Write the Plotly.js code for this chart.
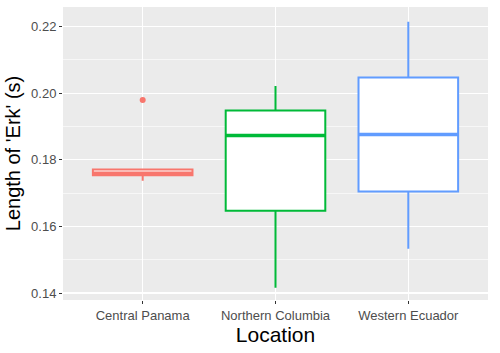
<!DOCTYPE html>
<html><head><meta charset="utf-8">
<script src="https://cdn.plot.ly/plotly-3.0.1.min.js"></script>
<style>html,body{margin:0;padding:0;background:#fff}</style>
</head><body><div id="chart" style="width:500px;height:353px"></div>
<script>
var categories = ["Central Panama", "Northern Columbia", "Western Ecuador"];
var colors = ["#F8766D", "#00BA38", "#619CFF"];
var lowerWhisker = [0.1737, 0.1416, 0.1533];
var q1 = [0.1754, 0.1647, 0.1705];
var median = [0.1760, 0.1873, 0.1876];
var q3 = [0.1771, 0.1948, 0.2047];
var upperWhisker = [0.1771, 0.2022, 0.2215];
var outlierCats = ["Central Panama"];
var outlierVals = [0.1980];

var traces = [];
var shapes = [];
categories.forEach(function(c, i) {
  traces.push({
    type: 'box', x: [c], q1: [q1[i]], median: [median[i]], q3: [q3[i]],
    lowerfence: [lowerWhisker[i]], upperfence: [upperWhisker[i]],
    fillcolor: 'white', line: {color: colors[i], width: 2},
    width: 0.75, whiskerwidth: 0, boxpoints: false, showlegend: false,
    hoverinfo: 'skip'
  });
  shapes.push({type: 'line', xref: 'x', yref: 'y', x0: i - 0.375, x1: i + 0.375,
    y0: median[i], y1: median[i], line: {color: colors[i], width: 3.5}});
});
traces.push({
  type: 'scatter', mode: 'markers', x: outlierCats, y: outlierVals,
  marker: {color: colors[0], size: 6}, showlegend: false, hoverinfo: 'skip'
});

var layout = {
  width: 500, height: 353,
  margin: {l: 63, r: 12, t: 7, b: 53},
  paper_bgcolor: 'white', plot_bgcolor: '#EBEBEB',
  font: {family: 'Liberation Sans, Arial, sans-serif', color: '#4D4D4D'},
  shapes: shapes,
  xaxis: {
    type: 'category', categoryorder: 'array', categoryarray: categories,
    range: [-0.6, 2.6], showgrid: true, gridcolor: 'white', gridwidth: 1.2,
    zeroline: false, showline: false,
    ticks: 'outside', ticklen: 3, tickcolor: '#333333', tickwidth: 1,
    tickfont: {size: 13, color: '#4D4D4D'},
    title: {text: 'Location', font: {size: 21, color: 'black'}, standoff: 4}
  },
  yaxis: {
    range: [0.1379, 0.2259], tickvals: [0.14, 0.16, 0.18, 0.20, 0.22],
    ticktext: ['0.14', '0.16', '0.18', '0.20', '0.22'],
    showgrid: true, gridcolor: 'white', gridwidth: 1.2, zeroline: false,
    minor: {tickvals: [0.15, 0.17, 0.19, 0.21], showgrid: true, gridcolor: 'white', gridwidth: 0.6, ticks: ''},
    ticks: 'outside', ticklen: 3, tickcolor: '#333333', tickwidth: 1,
    tickfont: {size: 13, color: '#4D4D4D'},
    title: {text: "Length of 'Erk' (s)", font: {size: 20, color: 'black'}, standoff: 5}
  }
};
Plotly.newPlot('chart', traces, layout, {displayModeBar: false, staticPlot: true});
</script></body></html>
